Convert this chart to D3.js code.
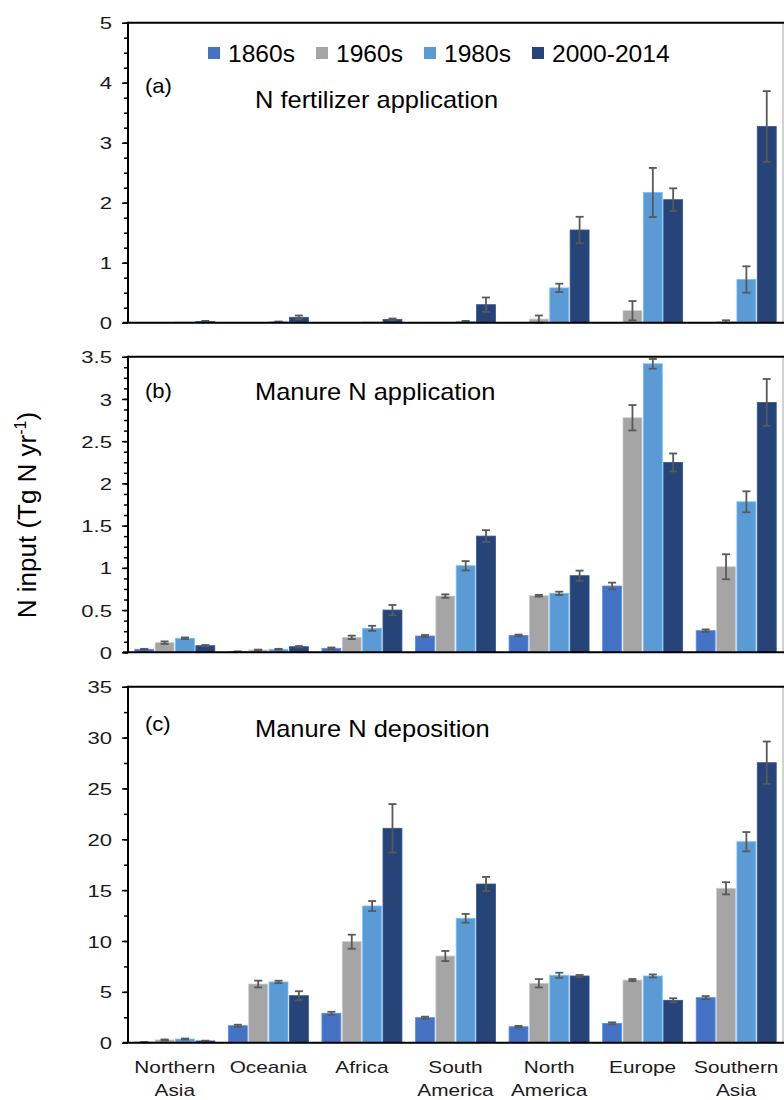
<html>
<head>
<meta charset="utf-8">
<title>N input by region</title>
<style>
  body { margin: 0; background: #fff; }
  svg { display: block; font-family: "Liberation Sans", Arial, sans-serif; }
</style>
<script src="https://cdnjs.cloudflare.com/ajax/libs/d3/7.8.5/d3.min.js"></script>
</head>
<body>
<svg></svg>
<script>
// regions, left to right
const categories = ['Northern Asia', 'Oceania', 'Africa', 'South America', 'North America', 'Europe', 'Southern Asia'];
const catLines = [['Northern', 'Asia'], ['Oceania'], ['Africa'], ['South', 'America'], ['North', 'America'], ['Europe'], ['Southern', 'Asia']];
const series = ['1860s', '1960s', '1980s', '2000-2014'];
const colors = ['#4472C4', '#A5A5A5', '#5B9BD5', '#264478'];

// (a) N fertilizer application
const fert1860 = [0, 0, 0, 0, 0, 0, 0];
const fert1960 = [0.005, 0.005, 0.005, 0.005, 0.06, 0.2, 0.02];
const fert1980 = [0.01, 0.015, 0.01, 0.02, 0.58, 2.17, 0.72];
const fert2000 = [0.02, 0.09, 0.055, 0.3, 1.545, 2.05, 3.27];
const fertErr1860 = [0, 0, 0, 0, 0, 0, 0];
const fertErr1960 = [0, 0, 0, 0, 0.06, 0.16, 0.02];
const fertErr1980 = [0, 0.005, 0, 0.01, 0.07, 0.41, 0.22];
const fertErr2000 = [0.01, 0.03, 0.015, 0.12, 0.22, 0.19, 0.59];

// (b) Manure N application
const appl1860 = [0.036, 0.008, 0.047, 0.193, 0.2, 0.785, 0.256];
const appl1960 = [0.114, 0.027, 0.177, 0.666, 0.67, 2.777, 1.013];
const appl1980 = [0.166, 0.036, 0.284, 1.025, 0.698, 3.416, 1.782];
const appl2000 = [0.078, 0.066, 0.5, 1.376, 0.907, 2.248, 2.958];
const applErr1860 = [0.005, 0.003, 0.01, 0.012, 0.01, 0.04, 0.015];
const applErr1960 = [0.015, 0.005, 0.02, 0.02, 0.01, 0.15, 0.148];
const applErr1980 = [0.01, 0.005, 0.03, 0.055, 0.02, 0.057, 0.124];
const applErr2000 = [0.008, 0.008, 0.06, 0.07, 0.06, 0.106, 0.278];

// (c) Manure N deposition
const depo1860 = [0.05, 1.67, 2.89, 2.46, 1.57, 1.9, 4.43];
const depo1960 = [0.27, 5.77, 9.93, 8.52, 5.84, 6.16, 15.18];
const depo1980 = [0.36, 5.97, 13.44, 12.23, 6.63, 6.56, 19.76];
const depo2000 = [0.17, 4.62, 21.08, 15.6, 6.56, 4.17, 27.53];
const depoErr1860 = [0.02, 0.1, 0.15, 0.1, 0.08, 0.1, 0.15];
const depoErr1960 = [0.05, 0.33, 0.69, 0.5, 0.41, 0.1, 0.6];
const depoErr1980 = [0.05, 0.12, 0.49, 0.43, 0.25, 0.15, 0.95];
const depoErr2000 = [0.03, 0.44, 2.38, 0.7, 0.1, 0.2, 2.08];

const panels = [
  { tag: '(a)', title: 'N fertilizer application', max: 5, major: 1, minor: 0.25, top: 22.7, bottom: 322.7,
    values: [fert1860, fert1960, fert1980, fert2000], errs: [fertErr1860, fertErr1960, fertErr1980, fertErr2000],
    tagY: 93, titleY: 108 },
  { tag: '(b)', title: 'Manure N application', max: 3.5, major: 0.5, minor: 0.125, top: 356.7, bottom: 652.3,
    values: [appl1860, appl1960, appl1980, appl2000], errs: [applErr1860, applErr1960, applErr1980, applErr2000],
    tagY: 398, titleY: 400 },
  { tag: '(c)', title: 'Manure N deposition', max: 35, major: 5, minor: 2.5, top: 686.7, bottom: 1042.7,
    values: [depo1860, depo1960, depo1980, depo2000], errs: [depoErr1860, depoErr1960, depoErr1980, depoErr2000],
    tagY: 731, titleY: 737 }
];

const width = 784, height = 1100;
const left = 128, right = 783;

const svg = d3.select('svg').attr('width', width).attr('height', height);

const x0 = d3.scaleBand().domain(categories).range([left, right]).paddingInner(0.145).paddingOuter(0.0725);
const x1 = d3.scaleBand().domain(series).range([0, x0.bandwidth()]).paddingInner(0.07);

panels.forEach(p => {
  const y = d3.scaleLinear().domain([0, p.max]).range([p.bottom, p.top]);
  const g = svg.append('g');

  // plot frame
  g.append('rect')
    .attr('x', left).attr('y', p.top)
    .attr('width', right - left).attr('height', p.bottom - p.top)
    .attr('fill', 'none').attr('stroke', '#A6A6A6').attr('stroke-width', 1);
  g.append('line')
    .attr('x1', left).attr('x2', right + 1).attr('y1', p.top).attr('y2', p.top)
    .attr('stroke', '#000').attr('stroke-width', 2);

  // minor ticks
  const minorTicks = d3.range(0, p.max + 1e-9, p.minor);
  g.append('g')
    .attr('transform', `translate(${left},0)`)
    .call(d3.axisLeft(y).tickValues(minorTicks).tickSize(4).tickFormat(''))
    .call(a => a.select('.domain').remove())
    .selectAll('line').attr('stroke', '#000').attr('stroke-width', 1.5);

  // major ticks + labels
  const majorTicks = d3.range(0, p.max + 1e-9, p.major);
  const ax = g.append('g')
    .attr('transform', `translate(${left},0)`)
    .call(d3.axisLeft(y).tickValues(majorTicks).tickSize(6).tickPadding(0).tickFormat(d3.format('~g')));
  ax.select('.domain').remove();
  ax.selectAll('line').attr('stroke', '#000').attr('stroke-width', 1.5);
  ax.selectAll('text')
    .attr('x', -12.3)
    .attr('dy', '0.36em')
    .attr('transform', 'scale(1.3,1)')
    .style('font-size', '17px')
    .style('font-family', '"Liberation Sans", Arial, sans-serif')
    .attr('fill', '#1a1a1a');

  // bars
  const rows = categories.map((c, ci) => ({
    cat: c,
    items: series.map((s, si) => ({ s, si, v: p.values[si][ci], e: p.errs[si][ci] }))
  }));
  const grp = g.selectAll('.grp').data(rows).enter().append('g')
    .attr('class', 'grp')
    .attr('transform', d => `translate(${x0(d.cat)},0)`);

  grp.selectAll('rect').data(d => d.items).enter().append('rect')
    .attr('x', d => x1(d.s))
    .attr('width', x1.bandwidth())
    .attr('y', d => y(d.v))
    .attr('height', d => y(0) - y(d.v))
    .attr('fill', d => colors[d.si])
    .attr('stroke', d => d3.color(colors[d.si]).brighter(0.6))
    .attr('stroke-width', 0.8);

  // error bars
  const eb = grp.selectAll('.err').data(d => d.items.filter(it => it.e > 0)).enter().append('g')
    .attr('class', 'err')
    .attr('stroke', '#595959').attr('stroke-width', 1.8);
  eb.append('line')
    .attr('x1', d => x1(d.s) + x1.bandwidth() / 2).attr('x2', d => x1(d.s) + x1.bandwidth() / 2)
    .attr('y1', d => y(d.v + d.e)).attr('y2', d => y(Math.max(0, d.v - d.e)));
  eb.append('line')
    .attr('x1', d => x1(d.s) + x1.bandwidth() / 2 - 4).attr('x2', d => x1(d.s) + x1.bandwidth() / 2 + 4)
    .attr('y1', d => y(d.v + d.e)).attr('y2', d => y(d.v + d.e));
  eb.append('line')
    .attr('x1', d => x1(d.s) + x1.bandwidth() / 2 - 4).attr('x2', d => x1(d.s) + x1.bandwidth() / 2 + 4)
    .attr('y1', d => y(Math.max(0, d.v - d.e))).attr('y2', d => y(Math.max(0, d.v - d.e)));

  // axes lines
  g.append('line')
    .attr('x1', left - 5).attr('x2', right + 1).attr('y1', p.bottom).attr('y2', p.bottom)
    .attr('stroke', '#000').attr('stroke-width', 2);
  g.append('line')
    .attr('x1', left).attr('x2', left).attr('y1', p.top - 1).attr('y2', p.bottom)
    .attr('stroke', '#000').attr('stroke-width', 2);

  // panel tag and title
  g.append('text')
    .attr('transform', `translate(145,${p.tagY}) scale(1.05,1)`)
    .style('font-size', '21px').attr('fill', '#000')
    .text(p.tag);
  g.append('text')
    .attr('transform', `translate(255,${p.titleY}) scale(1.06,1)`)
    .style('font-size', '24px').attr('fill', '#000')
    .text(p.title);
});

// legend
const leg = svg.append('g');
series.forEach((s, i) => {
  const lx = 208 + i * 108;
  leg.append('rect').attr('x', lx).attr('y', 47).attr('width', 12).attr('height', 12).attr('fill', colors[i]);
  leg.append('text')
    .attr('transform', `translate(${lx + 20},62) scale(1.07,1)`)
    .style('font-size', '23px').attr('fill', '#000')
    .text(s);
});

// category labels
const xl = svg.append('g');
categories.forEach((c, i) => {
  const cx = x0(c) + x0.bandwidth() / 2;
  const t = xl.append('text')
    .attr('transform', `translate(${cx},1073) scale(1.3,1)`)
    .attr('text-anchor', 'middle')
    .style('font-size', '16px').attr('fill', '#1a1a1a');
  catLines[i].forEach((ln, k) => {
    t.append('tspan').attr('x', 0).attr('dy', k === 0 ? 0 : 23).text(ln);
  });
});

// y axis title
const yt = svg.append('text')
  .attr('transform', 'translate(36,515) rotate(-90)')
  .attr('text-anchor', 'middle')
  .style('font-size', '26px').attr('fill', '#000');
yt.append('tspan').text('N input (Tg N yr');
yt.append('tspan').attr('dy', -10).style('font-size', '16px').text('-1');
yt.append('tspan').attr('dy', 10).text(')');
</script>
</body>
</html>
